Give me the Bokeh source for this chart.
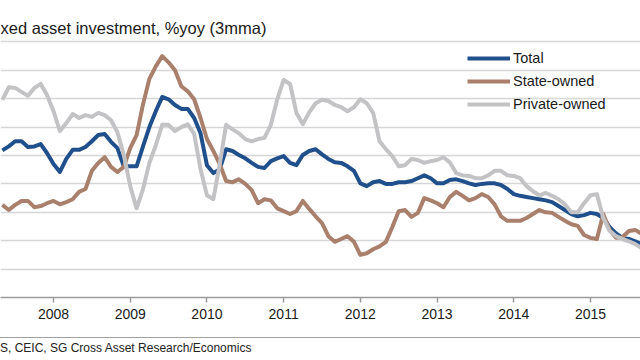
import pandas as pd
from bokeh.plotting import figure
from bokeh.models import Range1d, FixedTicker, Grid, Label, Legend, LegendItem, Div
from bokeh.layouts import column
from bokeh.embed import file_html
from bokeh.resources import INLINE

# ---------------- data (monthly, %yoy 3mma) ----------------
months = pd.period_range("2007-05", "2015-09", freq="M")

total = [20.9, 21.6, 22.5, 22.5, 21.5, 21.6, 22.0, 20.4,
         18.5, 17.1, 19.4, 21.0, 21.0, 21.5, 22.5, 23.6, 23.8, 22.4, 21.3, 18.1,
         18.1, 18.1, 21.6, 25.0, 27.8, 30.3, 29.9, 28.9, 28.2, 28.2, 26.6, 23.9,
         18.3, 16.9, 17.6, 21.1, 20.8, 20.1, 19.5, 18.7, 18.0, 17.8, 19.0, 19.5,
         19.9, 18.7, 18.3, 20.1, 20.8, 21.1, 20.2, 19.4, 18.8, 18.7, 18.1, 17.3,
         15.1, 14.6, 15.3, 15.5, 15.0, 15.0, 15.3, 15.3, 15.5, 16.0, 16.5, 16.0,
         15.1, 15.1, 15.7, 15.8, 15.5, 15.1, 14.8, 15.0, 15.1, 15.1, 14.8, 14.1,
         13.2, 12.9, 12.7, 12.5, 12.3, 12.1, 11.8, 11.1, 10.4, 9.7, 9.3, 9.5,
         9.9, 9.7, 9.0, 7.4, 6.3, 5.5, 5.3, 4.9, 4.4]

state = [11.3, 10.4, 11.3, 12.0, 12.0, 10.9, 11.1, 11.6,
         12.0, 11.4, 11.8, 12.3, 13.6, 14.1, 17.3, 18.7, 19.7, 18.0, 17.1, 18.0,
         21.3, 23.6, 29.0, 33.5, 35.7, 37.5, 36.4, 35.0, 32.2, 31.3, 29.9, 26.6,
         22.9, 20.8, 18.5, 15.5, 15.3, 15.8, 15.0, 13.9, 11.6, 12.3, 12.1, 10.7,
         10.2, 9.7, 10.2, 12.0, 10.6, 9.3, 8.1, 5.8, 4.8, 5.3, 5.8, 4.8,
         2.5, 2.8, 3.5, 4.0, 4.8, 7.4, 10.2, 10.4, 9.2, 9.9, 12.5, 12.1,
         11.6, 10.9, 12.7, 13.6, 12.9, 12.1, 12.5, 13.2, 12.7, 11.4, 9.3, 8.5,
         8.5, 8.5, 9.0, 9.7, 10.4, 10.0, 9.9, 9.2, 8.5, 7.9, 7.6, 6.0,
         5.5, 5.3, 9.7, 6.9, 5.5, 5.6, 6.7, 6.9, 6.2]

private = [29.8, 32.0, 31.9, 31.2, 30.5, 31.9, 32.6, 30.6,
           27.8, 24.3, 25.7, 27.3, 26.6, 27.1, 26.8, 27.5, 27.1, 26.2, 24.1, 20.1,
           14.6, 10.7, 14.1, 18.7, 21.8, 25.4, 25.4, 24.3, 25.0, 25.5, 23.8, 17.6,
           13.0, 12.3, 18.5, 25.4, 24.6, 23.9, 22.9, 22.5, 22.9, 23.1, 25.4, 29.9,
           33.3, 32.6, 27.5, 25.5, 27.6, 29.2, 29.8, 29.6, 28.9, 28.5, 27.8, 28.5,
           29.9, 29.2, 27.5, 22.5, 21.1, 19.9, 18.1, 18.3, 19.4, 19.2, 18.7, 19.0,
           19.2, 19.7, 18.8, 16.9, 16.5, 16.4, 16.0, 16.0, 16.5, 17.3, 17.3, 16.5,
           16.4, 16.0, 14.6, 13.7, 13.0, 13.4, 12.9, 12.3, 11.4, 10.0, 10.0, 11.6,
           13.0, 13.2, 9.0, 6.7, 5.8, 5.3, 4.9, 4.4, 3.7]

series_names = ["Total", "State-owned", "Private-owned"]
year_ticks = [2008, 2009, 2010, 2011, 2012, 2013, 2014, 2015]
y_grid_ticks = [-5, 0, 5, 10, 15, 20, 25, 30, 35, 40, 45]
title_text = "xed asset investment, %yoy (3mma)"
source_text = "S, CEIC, SG Cross Asset Research/Economics"

# ---------------- styling ----------------
BLUE = "#20508C"
BROWN = "#A8806C"
GREY = "#C3C3C6"
FONT = "Liberation Sans"

x = [m.year + (m.month - 1) / 12 for m in months]
X0, X1 = 2007.309, 2015.652

p = figure(width=640, height=337, output_backend="svg", toolbar_location=None,
           x_range=Range1d(X0, X1), y_range=Range1d(-5, 45),
           y_axis_location=None,
           min_border_left=0, min_border_right=0, min_border_top=13, min_border_bottom=40)
p.outline_line_color = None
p.background_fill_color = "white"
p.border_fill_color = "white"
p.xgrid.visible = False

p.add_layout(Grid(dimension=1, ticker=FixedTicker(ticks=y_grid_ticks),
                  grid_line_color="#D6D6D6", grid_line_width=1.5))

ax = p.xaxis[0]
ax.ticker = FixedTicker(ticks=year_ticks)
ax.major_label_overrides = {t: str(t) for t in year_ticks}
ax.axis_line_color = "#9A9A9A"
ax.axis_line_width = 1.5
ax.major_tick_line_color = "#9A9A9A"
ax.major_tick_line_width = 1.5
ax.major_tick_in = 0
ax.major_tick_out = 5
ax.minor_tick_line_color = None
ax.major_label_standoff = 6
ax.major_label_text_font = FONT
ax.major_label_text_font_size = "14px"
ax.major_label_text_color = "#1A1A1A"

r_total = p.line(x, total, line_color=BLUE, line_width=4, line_join="round")
r_state = p.line(x, state, line_color=BROWN, line_width=4, line_join="round")
r_priv = p.line(x, private, line_color=GREY, line_width=4, line_join="round")

legend = Legend(items=[LegendItem(label=series_names[0], renderers=[r_total]),
                       LegendItem(label=series_names[1], renderers=[r_state]),
                       LegendItem(label=series_names[2], renderers=[r_priv])],
                location=(467, 183), padding=0, margin=0, spacing=3,
                glyph_width=43, glyph_height=20, label_height=20, label_standoff=3,
                label_text_font=FONT, label_text_font_size="14.5px",
                label_text_color="#1A1A1A",
                background_fill_alpha=0, border_line_alpha=0)
p.add_layout(legend)

p.add_layout(Label(x=X0, y=42.4, text=title_text, text_baseline="middle",
                   text_align="left", text_font=FONT, text_font_size="16.5px",
                   text_color="#1A1A1A"))

div = Div(text=('<div style="width:640px; border-top:1.5px solid #A0A0A0; padding-top:3px; '
                'font-family:\'Liberation Sans\'; font-size:12px; color:#222; '
                'line-height:14px; white-space:nowrap;">' + source_text + '</div>'),
          width=640, height=23, margin=0)

layout = column(p, div, spacing=0)
open("out.html", "w").write(file_html(layout, INLINE))
